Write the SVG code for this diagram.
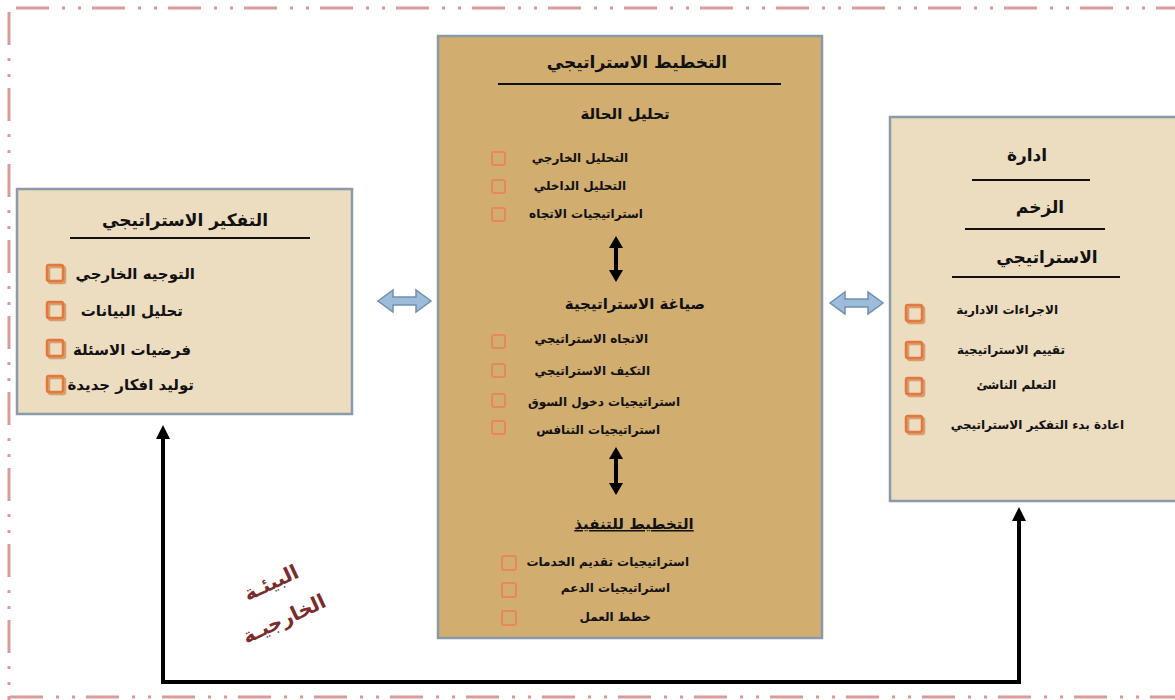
<svg xmlns="http://www.w3.org/2000/svg" width="1175" height="700" viewBox="0 0 1175 700">
<style>
.frame{fill:none;stroke:#dc9a9a;stroke-width:3;stroke-dasharray:33 13 3 13 3 11}
.box{stroke:#8a9aa8;stroke-width:2.5}
.t{font-family:"DejaVu Sans",sans-serif;font-weight:bold;fill:#111}
.h{font-size:17px}
.s{font-size:15px}
.i{font-size:12px}
.ul{stroke:#111;stroke-width:2}
.cb{fill:none;stroke:#e2783a;stroke-width:2.5}
.cbsh{fill:none;stroke:#c86a30;stroke-width:2.5;opacity:0.55}
.cbs{fill:none;stroke:#e8875c;stroke-width:2}
.blue{fill:#9dbcda;stroke:#6e8fb3;stroke-width:1.5}
.conn{fill:none;stroke:#000;stroke-width:4}
.dbl{fill:#000}
.lbl{font-family:"DejaVu Sans",sans-serif;font-weight:bold;font-size:20px;fill:#7a2c2c}
</style>
<defs>
<marker id="ah" viewBox="0 0 10 10" refX="5" refY="5" markerWidth="3.5" markerHeight="3.5" orient="auto-start-reverse" markerUnits="strokeWidth">
<path d="M0,0 L10,5 L0,10 z" fill="#000"/>
</marker>
</defs>
<rect width="1175" height="700" fill="#fff"/>
<g id="frame">
<line class="frame" x1="16" y1="8" x2="1175" y2="8"/>
<line class="frame" x1="9" y1="12" x2="9" y2="700"/>
<line class="frame" x1="10" y1="697" x2="1175" y2="697"/>
</g>
<g id="node-thinking">
<rect class="box" x="17" y="189" width="335" height="225" fill="#ecdcc0"/>
<text class="t h" x="185" y="226" text-anchor="middle">التفكير الاستراتيجي</text>
<line class="ul" x1="70" y1="238" x2="310" y2="238"/>
<rect class="cbsh" x="49" y="267" width="16" height="16" rx="2"/>
<rect class="cbsh" x="49" y="304" width="16" height="16" rx="2"/>
<rect class="cbsh" x="49" y="342" width="16" height="16" rx="2"/>
<rect class="cbsh" x="49" y="378" width="16" height="16" rx="2"/>
<rect class="cb" x="47" y="265" width="16" height="16" rx="2"/>
<rect class="cb" x="47" y="302" width="16" height="16" rx="2"/>
<rect class="cb" x="47" y="340" width="16" height="16" rx="2"/>
<rect class="cb" x="47" y="376" width="16" height="16" rx="2"/>
<text class="t s" x="195" y="279" text-anchor="end">التوجيه الخارجي</text>
<text class="t s" x="183" y="316" text-anchor="end">تحليل البيانات</text>
<text class="t s" x="191" y="355" text-anchor="end">فرضيات الاسئلة</text>
<text class="t s" x="194" y="390" text-anchor="end">توليد افكار جديدة</text>
</g>
<g id="node-planning">
<rect class="box" x="438" y="36" width="384" height="602" fill="#d1ae70"/>
<text class="t h" x="637" y="68" text-anchor="middle">التخطيط الاستراتيجي</text>
<line class="ul" x1="498" y1="84" x2="781" y2="84"/>
<text class="t s" x="625" y="119" text-anchor="middle">تحليل الحالة</text>
<rect class="cbs" x="492" y="152" width="13" height="13" rx="2"/>
<rect class="cbs" x="492" y="180" width="13" height="13" rx="2"/>
<rect class="cbs" x="492" y="208" width="13" height="13" rx="2"/>
<text class="t i" x="628" y="162" text-anchor="end">التحليل الخارجي</text>
<text class="t i" x="626" y="190" text-anchor="end">التحليل الداخلي</text>
<text class="t i" x="643" y="218" text-anchor="end">استراتيجيات الاتجاه</text>
<text class="t s" x="635" y="309" text-anchor="middle">صياغة الاستراتيجية</text>
<rect class="cbs" x="492" y="335" width="13" height="13" rx="2"/>
<rect class="cbs" x="492" y="364" width="13" height="13" rx="2"/>
<rect class="cbs" x="492" y="394" width="13" height="13" rx="2"/>
<rect class="cbs" x="492" y="421" width="13" height="13" rx="2"/>
<text class="t i" x="648" y="343" text-anchor="end">الاتجاه الاستراتيجي</text>
<text class="t i" x="650" y="375" text-anchor="end">التكيف الاستراتيجي</text>
<text class="t i" x="680" y="406" text-anchor="end">استراتيجيات دخول السوق</text>
<text class="t i" x="660" y="434" text-anchor="end">استراتيجيات التنافس</text>
<text class="t s" x="634" y="529" text-anchor="middle" text-decoration="underline">التخطيط للتنفيذ</text>
<rect class="cbs" x="502" y="556" width="14" height="14" rx="2"/>
<rect class="cbs" x="502" y="583" width="14" height="14" rx="2"/>
<rect class="cbs" x="502" y="611" width="14" height="14" rx="2"/>
<text class="t i" x="689" y="566" text-anchor="end">استراتيجيات تقديم الخدمات</text>
<text class="t i" x="670" y="592" text-anchor="end">استراتيجيات الدعم</text>
<text class="t i" x="651" y="621" text-anchor="end">خطط العمل</text>
</g>
<g id="node-momentum">
<rect class="box" x="890" y="117" width="290" height="384" fill="#ecdcc0"/>
<text class="t h" x="1027" y="161" text-anchor="middle">ادارة</text>
<line class="ul" x1="972" y1="180" x2="1090" y2="180"/>
<text class="t h" x="1040" y="213" text-anchor="middle">الزخم</text>
<line class="ul" x1="965" y1="229" x2="1105" y2="229"/>
<text class="t h" x="1047" y="263" text-anchor="middle">الاستراتيجي</text>
<line class="ul" x1="952" y1="277" x2="1120" y2="277"/>
<rect class="cbsh" x="908" y="307" width="16" height="16" rx="2"/>
<rect class="cbsh" x="908" y="344" width="16" height="16" rx="2"/>
<rect class="cbsh" x="908" y="380" width="16" height="16" rx="2"/>
<rect class="cbsh" x="908" y="418" width="16" height="16" rx="2"/>
<rect class="cb" x="906" y="305" width="16" height="16" rx="2"/>
<rect class="cb" x="906" y="342" width="16" height="16" rx="2"/>
<rect class="cb" x="906" y="378" width="16" height="16" rx="2"/>
<rect class="cb" x="906" y="416" width="16" height="16" rx="2"/>
<text class="t i" x="1058" y="314" text-anchor="end">الاجراءات الادارية</text>
<text class="t i" x="1065" y="354" text-anchor="end">تقييم الاستراتيجية</text>
<text class="t i" x="1056" y="389" text-anchor="end">التعلم الناشئ</text>
<text class="t i" x="1124" y="429" text-anchor="end">اعادة بدء التفكير الاستراتيجي</text>
</g>
<g id="label-env">
<text class="lbl" transform="translate(274,589) rotate(-25)" text-anchor="middle">البيئـة</text>
<text class="lbl" transform="translate(287,625) rotate(-25)" text-anchor="middle">الخارجيـة</text>
</g>
<g id="connectors">
<polyline class="conn" points="163,432 163,682 1019,682 1019,514" marker-end="url(#ah)"/>
<line class="conn" x1="163" y1="440" x2="163" y2="432" marker-end="url(#ah)"/>
<path class="blue" d="M378,301 L393,290 L393,297 L416,297 L416,290 L431,301 L416,312 L416,305 L393,305 L393,312 Z"/>
<path class="blue" d="M830,303 L845,292 L845,299 L868,299 L868,292 L883,303 L868,314 L868,307 L845,307 L845,314 Z"/>
<path class="dbl" d="M616,236 L623,248 L618,248 L618,270 L623,270 L616,282 L609,270 L614,270 L614,248 L609,248 Z"/>
<path class="dbl" d="M616,447 L623,459 L618,459 L618,483 L623,483 L616,495 L609,483 L614,483 L614,459 L609,459 Z"/>
</g>
</svg>
